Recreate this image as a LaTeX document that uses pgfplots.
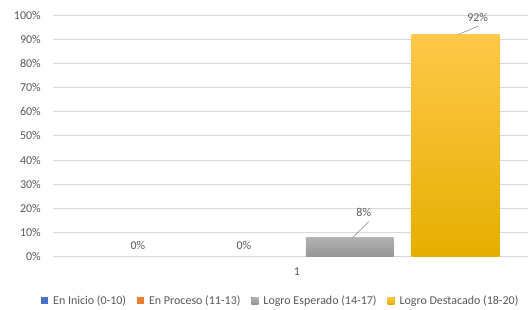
\documentclass[border=0pt]{standalone}
\usepackage{fontspec}
\setmainfont{Carlito}
\usepackage{pgfplots}
\pgfplotsset{compat=1.18}
\definecolor{txt}{HTML}{595959}
\definecolor{gridc}{HTML}{D9D9D9}
\definecolor{cblue}{HTML}{4472C4}
\definecolor{corange}{HTML}{ED7D31}
\definecolor{cgraytop}{HTML}{B2B2B2}
\definecolor{cgraybot}{HTML}{959595}
\definecolor{cgoldtop}{HTML}{FFC84A}
\definecolor{cgoldbot}{HTML}{E5AF00}
\begin{document}
\begin{tikzpicture}
\begin{axis}[
  scale only axis, width=475pt, height=242pt,
  xmin=-2.302, xmax=2.179, ymin=0, ymax=1,
  ybar, bar width=0.83, bar shift=0pt,
  axis line style={draw=none},
  major tick length=0pt,
  ymajorgrids, grid style={gridc, line width=0.8pt},
  ytick={0,0.1,...,1.0},
  yticklabels={0\%,10\%,20\%,30\%,40\%,50\%,60\%,70\%,80\%,90\%,100\%},
  xtick={0}, xticklabels={1},
  tick label style={font=\fontsize{12}{14}\selectfont, text=txt},
  yticklabel style={anchor=east, inner sep=0pt, xshift=-12pt},
  xticklabel style={anchor=center, inner sep=0pt, yshift=-15pt},
  /pgf/number format/assume math mode=true,
  nodes near coords,
  nodes near coords style={font=\fontsize{12}{14}\selectfont, text=txt, anchor=center, inner sep=0pt},
  point meta=explicit symbolic,
  legend style={draw=none, fill=none, at={(0.48,-0.182)}, anchor=center,
    font=\fontsize{12}{14}\selectfont, text=txt, legend columns=4,
    inner sep=0pt,
    /tikz/every even column/.append style={column sep=9pt},
    /tikz/every odd column/.append style={column sep=3pt}},
  legend cell align=left,
  legend image code/.code={\fill[#1] (0pt,-3.5pt) rectangle (7pt,3.5pt);},
  clip=false,
]
\addplot[draw=none, fill=cblue, every node near coord/.append style={yshift=11pt}]
  coordinates {(-1.5,0) [0\%]};
\addlegendentry{En Inicio (0-10)}
\addplot[draw=none, fill=corange, every node near coord/.append style={yshift=11pt}]
  coordinates {(-0.5,0) [0\%]};
\addlegendentry{En Proceso (11-13)}
\addplot[draw=none, top color=cgraytop, bottom color=cgraybot, every node near coord/.append style={xshift=14pt, yshift=25.5pt}]
  coordinates {(0.5,0.08) [8\%]};
\addlegendentry{Logro Esperado (14-17)}
\addplot[draw=none, top color=cgoldtop, bottom color=cgoldbot, every node near coord/.append style={xshift=22pt, yshift=17pt}]
  coordinates {(1.5,0.92) [92\%]};
\addlegendentry{Logro Destacado (18-20)}
\draw[gridc, line width=0.8pt] (axis cs:-2.302,0) -- (axis cs:-0.0,0);
\draw[gridc!60!black, line width=0.5pt] (axis cs:0.528,0.08) -- (axis cs:0.679,0.1446);
\draw[gridc!60!black, line width=0.5pt] (axis cs:1.528,0.92) -- (axis cs:1.717,0.9545);
\useasboundingbox (rel axis cs:0,0) ++(-53pt,-53pt) rectangle ([xshift=0pt,yshift=15pt]rel axis cs:1,1);
\end{axis}
\end{tikzpicture}
\end{document}
